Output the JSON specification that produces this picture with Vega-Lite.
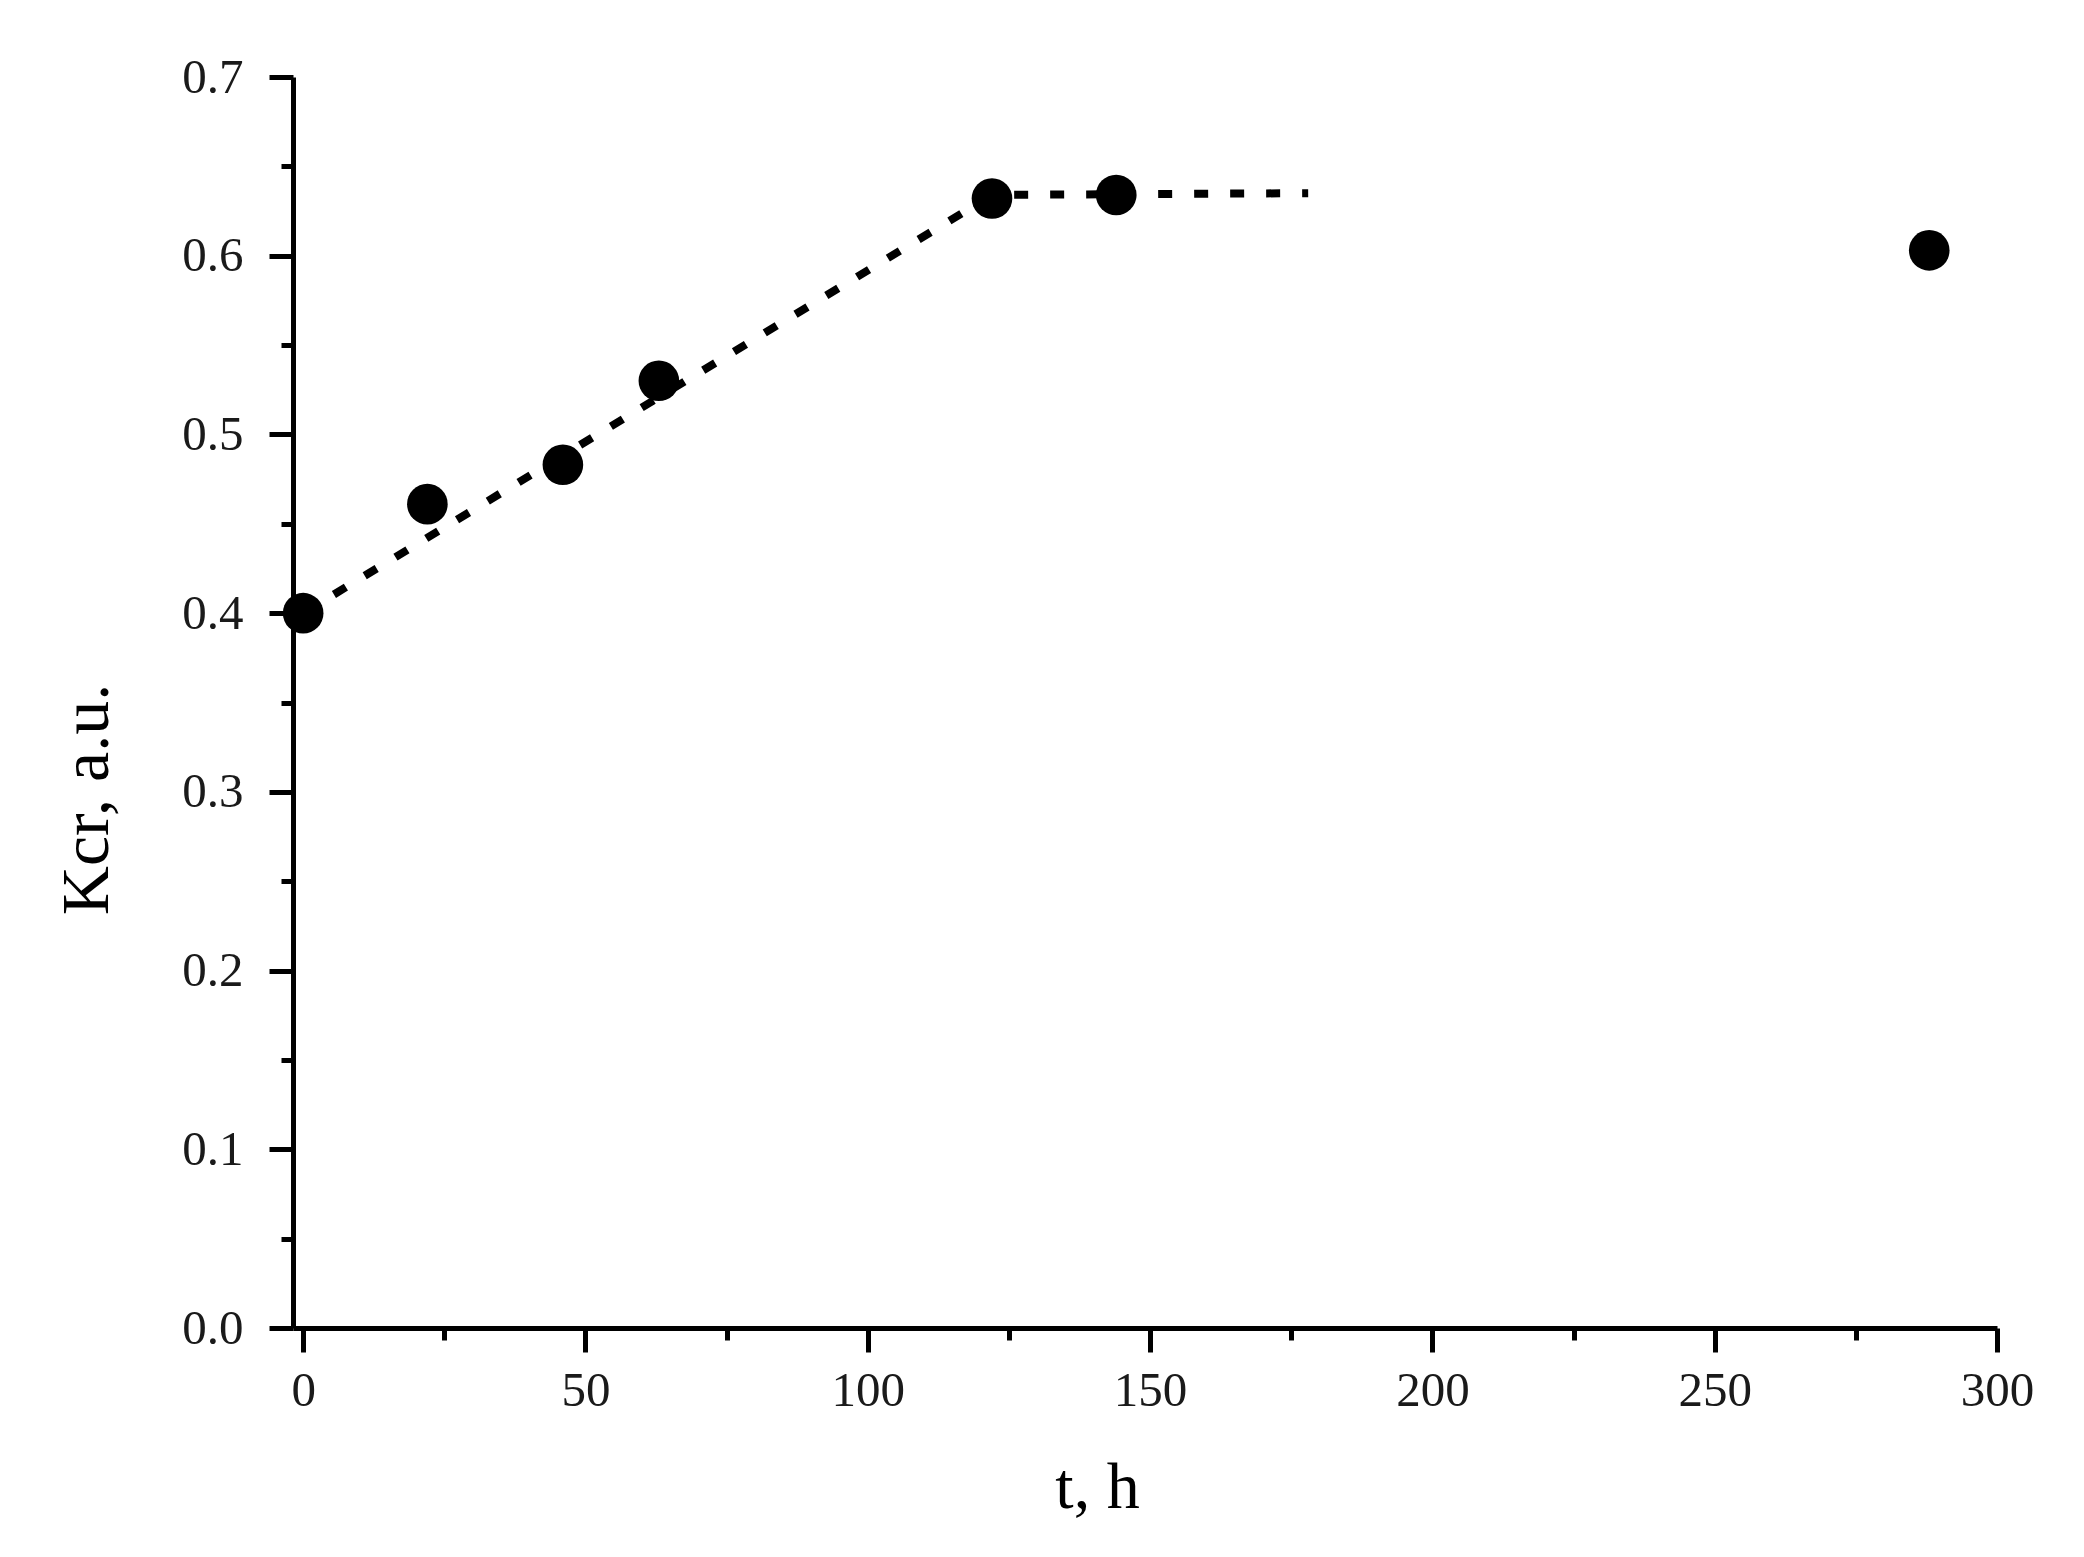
{
  "$schema": "https://vega.github.io/schema/vega-lite/v6.json",
  "width": 1704,
  "height": 1251,
  "autosize": "none",
  "padding": {"left": 293, "top": 77, "right": 87, "bottom": 229},
  "background": "white",
  "config": {
    "view": {"stroke": null},
    "font": "Liberation Serif",
    "axis": {
      "domainColor": "black",
      "domainWidth": 5,
      "tickColor": "black",
      "tickWidth": 5,
      "labelColor": "#1a1a1a",
      "labelFont": "Liberation Serif",
      "labelFontSize": 49,
      "titleFont": "Liberation Serif",
      "titleColor": "black",
      "titleFontWeight": "normal",
      "grid": false
    }
  },
  "datasets": {
    "points": [
      {"t": 0, "k": 0.400},
      {"t": 22, "k": 0.461},
      {"t": 46, "k": 0.483},
      {"t": 63, "k": 0.530},
      {"t": 122, "k": 0.632},
      {"t": 144, "k": 0.634},
      {"t": 288, "k": 0.603}
    ],
    "trend": [
      {"t": 0, "k": 0.400},
      {"t": 122, "k": 0.634},
      {"t": 178, "k": 0.635}
    ]
  },
  "encoding": {
    "x": {
      "field": "t",
      "type": "quantitative",
      "scale": {"domain": [-1.8, 300], "nice": false, "zero": false},
      "axis": {
        "title": "t, h",
        "titleFontSize": 66,
        "values": [0, 25, 50, 75, 100, 125, 150, 175, 200, 225, 250, 275, 300],
        "labelExpr": "datum.value % 50 == 0 ? datum.label : ''",
        "tickSize": {"condition": {"test": "datum.value % 50 != 0", "value": 12}, "value": 24},
        "labelPadding": 14,
        "labelFlush": false,
        "titleX": 804,
        "titleY": 179,
        "titleBaseline": "alphabetic"
      }
    },
    "y": {
      "field": "k",
      "type": "quantitative",
      "scale": {"domain": [0, 0.7], "nice": false},
      "axis": {
        "title": "Kcr, a.u.",
        "titleFontSize": 68,
        "values": [0, 0.05, 0.1, 0.15, 0.2, 0.25, 0.3, 0.35, 0.4, 0.45, 0.5, 0.55, 0.6, 0.65, 0.7],
        "format": ".1f",
        "labelExpr": "abs(datum.value * 10 - round(datum.value * 10)) < 0.001 ? datum.label : ''",
        "tickSize": {"condition": {"test": "abs(datum.value * 10 - round(datum.value * 10)) > 0.001", "value": 12}, "value": 24},
        "labelPadding": 26,
        "labelFlush": false,
        "titleX": -172,
        "titleY": 722
      }
    }
  },
  "layer": [
    {
      "data": {"name": "trend"},
      "mark": {"type": "line", "color": "black", "strokeWidth": 8, "strokeDash": [14, 22], "strokeCap": "butt"}
    },
    {
      "data": {"name": "points"},
      "mark": {"type": "circle", "color": "black", "opacity": 1, "size": 1650}
    }
  ]
}
